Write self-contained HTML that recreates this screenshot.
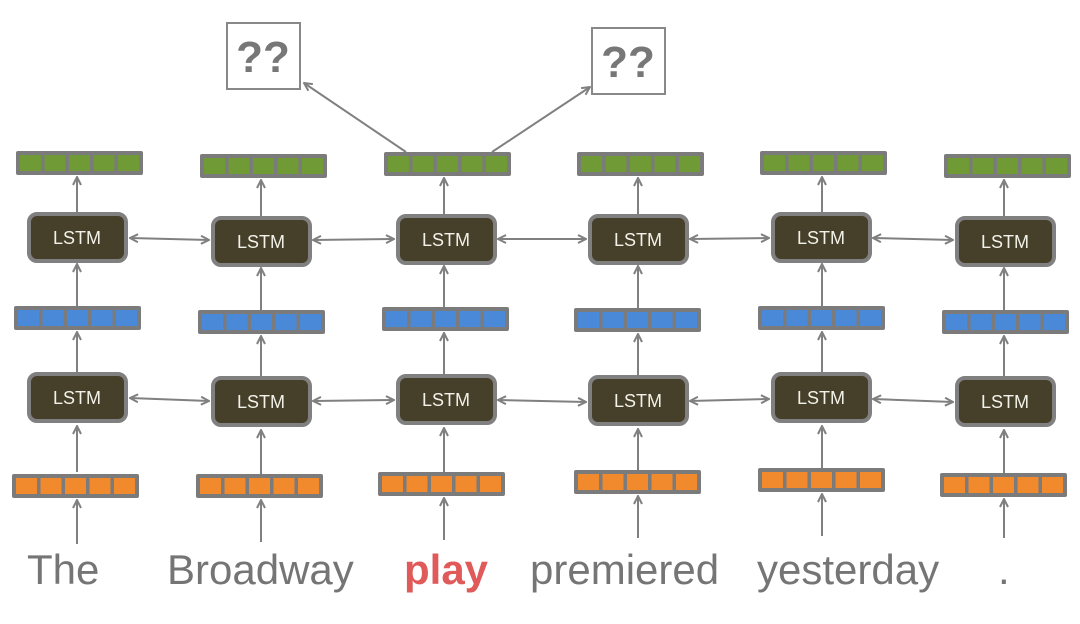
<!DOCTYPE html>
<html><head><meta charset="utf-8"><style>
html,body{margin:0;padding:0;background:#fff;width:1080px;height:624px;overflow:hidden}
svg{display:block}
text{font-family:"Liberation Sans",sans-serif}
</style></head><body>
<svg width="1080" height="624" viewBox="0 0 1080 624" xmlns="http://www.w3.org/2000/svg">
<defs>
<marker id="a" markerWidth="10" markerHeight="10" refX="9" refY="5" orient="auto-start-reverse" markerUnits="userSpaceOnUse">
<path d="M1,1 L9,5 L1,9" fill="none" stroke="#808080" stroke-width="2"/></marker>
<g id="g"><rect width="127" height="24" rx="2" fill="#7b7b7b"/>
<rect x="4" y="4" width="21" height="16" fill="#6f9a35"/><rect x="28.5" y="4" width="21" height="16" fill="#6f9a35"/><rect x="53" y="4" width="21" height="16" fill="#6f9a35"/><rect x="77.5" y="4" width="21" height="16" fill="#6f9a35"/><rect x="102" y="4" width="21" height="16" fill="#6f9a35"/></g>
<g id="b"><rect width="127" height="24" rx="2" fill="#7b7b7b"/>
<rect x="4" y="4" width="21" height="16" fill="#4a88d8"/><rect x="28.5" y="4" width="21" height="16" fill="#4a88d8"/><rect x="53" y="4" width="21" height="16" fill="#4a88d8"/><rect x="77.5" y="4" width="21" height="16" fill="#4a88d8"/><rect x="102" y="4" width="21" height="16" fill="#4a88d8"/></g>
<g id="o"><rect width="127" height="24" rx="2" fill="#7b7b7b"/>
<rect x="4" y="4" width="21" height="16" fill="#f08a2c"/><rect x="28.5" y="4" width="21" height="16" fill="#f08a2c"/><rect x="53" y="4" width="21" height="16" fill="#f08a2c"/><rect x="77.5" y="4" width="21" height="16" fill="#f08a2c"/><rect x="102" y="4" width="21" height="16" fill="#f08a2c"/></g>
<g id="L"><rect x="2" y="2" width="97" height="47" rx="8" fill="#463f2a" stroke="#808080" stroke-width="4"/></g>
</defs>

<!-- ?? boxes -->
<rect x="227" y="23" width="73" height="66" fill="#fff" stroke="#888" stroke-width="2"/>
<text x="263" y="72" font-size="44" font-weight="bold" fill="#777" text-anchor="middle">??</text>
<rect x="592" y="28" width="73" height="66" fill="#fff" stroke="#888" stroke-width="2"/>
<text x="628" y="77" font-size="44" font-weight="bold" fill="#777" text-anchor="middle">??</text>
<g stroke="#808080" stroke-width="2" fill="none">
<line x1="406" y1="152" x2="304" y2="83" marker-end="url(#a)"/>
<line x1="492" y1="152" x2="590" y2="87" marker-end="url(#a)"/>
</g>

<!-- column elements -->
<use href="#g" x="16" y="151"/><use href="#L" x="27" y="212"/><use href="#b" x="14" y="306"/><use href="#L" x="27" y="372"/><use href="#o" x="12" y="474"/>
<use href="#g" x="200" y="154"/><use href="#L" x="211" y="216"/><use href="#b" x="198" y="310"/><use href="#L" x="211" y="376"/><use href="#o" x="196" y="474"/>
<use href="#g" x="384" y="152"/><use href="#L" x="396" y="214"/><use href="#b" x="382" y="307"/><use href="#L" x="396" y="374"/><use href="#o" x="378" y="472"/>
<use href="#g" x="577" y="152"/><use href="#L" x="588" y="214"/><use href="#b" x="574" y="308"/><use href="#L" x="588" y="375"/><use href="#o" x="574" y="470"/>
<use href="#g" x="760" y="151"/><use href="#L" x="771" y="212"/><use href="#b" x="758" y="306"/><use href="#L" x="771" y="372"/><use href="#o" x="758" y="468"/>
<use href="#g" x="944" y="154"/><use href="#L" x="955" y="216"/><use href="#b" x="942" y="310"/><use href="#L" x="955" y="376"/><use href="#o" x="940" y="473"/>

<g font-size="18" fill="#f2f2e8" text-anchor="middle">
<text x="77" y="244">LSTM</text><text x="77" y="404">LSTM</text>
<text x="261" y="248">LSTM</text><text x="261" y="408">LSTM</text>
<text x="446" y="246">LSTM</text><text x="446" y="406">LSTM</text>
<text x="638" y="246">LSTM</text><text x="638" y="407">LSTM</text>
<text x="821" y="244">LSTM</text><text x="821" y="404">LSTM</text>
<text x="1005" y="248">LSTM</text><text x="1005" y="408">LSTM</text>
</g>

<g stroke="#808080" stroke-width="2" fill="none">
<!-- vertical arrows -->
<line x1="77" y1="544" x2="77" y2="500" marker-end="url(#a)"/><line x1="77" y1="472" x2="77" y2="426" marker-end="url(#a)"/><line x1="77" y1="372" x2="77" y2="332" marker-end="url(#a)"/><line x1="77" y1="306" x2="77" y2="264" marker-end="url(#a)"/><line x1="77" y1="214" x2="77" y2="177" marker-end="url(#a)"/>
<line x1="261" y1="542" x2="261" y2="500" marker-end="url(#a)"/><line x1="261" y1="474" x2="261" y2="430" marker-end="url(#a)"/><line x1="261" y1="376" x2="261" y2="336" marker-end="url(#a)"/><line x1="261" y1="310" x2="261" y2="268" marker-end="url(#a)"/><line x1="261" y1="218" x2="261" y2="180" marker-end="url(#a)"/>
<line x1="444" y1="540" x2="444" y2="498" marker-end="url(#a)"/><line x1="444" y1="472" x2="444" y2="428" marker-end="url(#a)"/><line x1="444" y1="374" x2="444" y2="333" marker-end="url(#a)"/><line x1="444" y1="307" x2="444" y2="266" marker-end="url(#a)"/><line x1="444" y1="216" x2="444" y2="178" marker-end="url(#a)"/>
<line x1="638" y1="538" x2="638" y2="496" marker-end="url(#a)"/><line x1="638" y1="470" x2="638" y2="429" marker-end="url(#a)"/><line x1="638" y1="375" x2="638" y2="334" marker-end="url(#a)"/><line x1="638" y1="308" x2="638" y2="266" marker-end="url(#a)"/><line x1="638" y1="216" x2="638" y2="178" marker-end="url(#a)"/>
<line x1="822" y1="536" x2="822" y2="494" marker-end="url(#a)"/><line x1="822" y1="468" x2="822" y2="426" marker-end="url(#a)"/><line x1="822" y1="372" x2="822" y2="332" marker-end="url(#a)"/><line x1="822" y1="306" x2="822" y2="264" marker-end="url(#a)"/><line x1="822" y1="214" x2="822" y2="177" marker-end="url(#a)"/>
<line x1="1004" y1="538" x2="1004" y2="499" marker-end="url(#a)"/><line x1="1004" y1="473" x2="1004" y2="430" marker-end="url(#a)"/><line x1="1004" y1="376" x2="1004" y2="336" marker-end="url(#a)"/><line x1="1004" y1="310" x2="1004" y2="268" marker-end="url(#a)"/><line x1="1004" y1="218" x2="1004" y2="180" marker-end="url(#a)"/>
<!-- horizontal arrows top -->
<line x1="130" y1="238" x2="209" y2="240" marker-start="url(#a)" marker-end="url(#a)"/>
<line x1="313" y1="240" x2="394" y2="239" marker-start="url(#a)" marker-end="url(#a)"/>
<line x1="498" y1="239" x2="586" y2="239" marker-start="url(#a)" marker-end="url(#a)"/>
<line x1="690" y1="239" x2="769" y2="238" marker-start="url(#a)" marker-end="url(#a)"/>
<line x1="873" y1="238" x2="953" y2="240" marker-start="url(#a)" marker-end="url(#a)"/>
<!-- horizontal arrows bottom -->
<line x1="130" y1="398" x2="209" y2="401" marker-start="url(#a)" marker-end="url(#a)"/>
<line x1="313" y1="401" x2="394" y2="400" marker-start="url(#a)" marker-end="url(#a)"/>
<line x1="498" y1="400" x2="586" y2="402" marker-start="url(#a)" marker-end="url(#a)"/>
<line x1="690" y1="401" x2="769" y2="399" marker-start="url(#a)" marker-end="url(#a)"/>
<line x1="873" y1="399" x2="953" y2="402" marker-start="url(#a)" marker-end="url(#a)"/>
</g>

<!-- words -->
<g font-size="42" fill="#757575">
<text x="27" y="584">The</text>
<text x="167" y="584">Broadway</text>
<text x="404" y="584" fill="#e05a5a" font-weight="bold">play</text>
<text x="530" y="584">premiered</text>
<text x="757" y="584">yesterday</text>
<text x="998" y="584">.</text>
</g>
</svg>
</body></html>
